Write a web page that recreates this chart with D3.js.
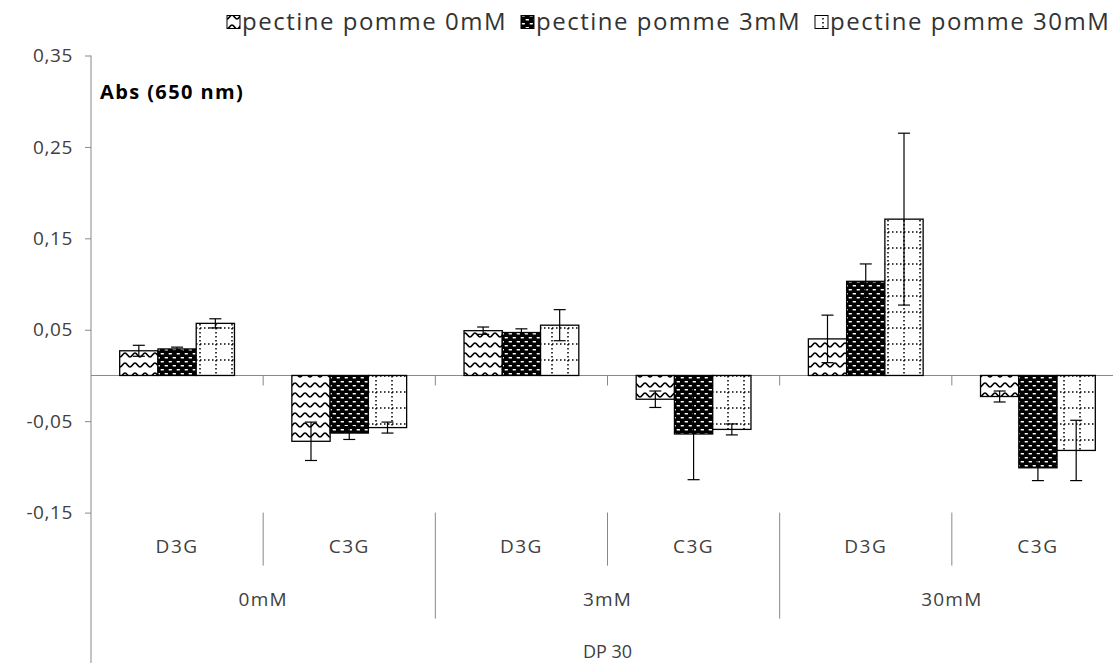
<!DOCTYPE html>
<html>
<head>
<meta charset="utf-8">
<script src="https://cdn.jsdelivr.net/npm/d3@7"></script>
<style>
body { margin: 0; background: #fff; }
text { font-family: "Open Sans", sans-serif; }
</style>
</head>
<body>
<div id="chart"></div>
<script>
var groups = ["0mM", "3mM", "30mM"];
var subcats = ["D3G", "C3G"];
var series = ["pectine pomme 0mM", "pectine pomme 3mM", "pectine pomme 30mM"];
var yTicks = [0.35, 0.25, 0.15, 0.05, -0.05, -0.15];
var axisTitle = "Abs (650 nm)";
var groupTitle = "DP 30";

// one value per category, in order 0mM D3G, 0mM C3G, 3mM D3G, 3mM C3G, 30mM D3G, 30mM C3G
var pomme0mM  = [0.027, -0.072, 0.049, -0.026, 0.040, -0.023];
var pomme3mM  = [0.029, -0.063, 0.047, -0.064, 0.103, -0.101];
var pomme30mM = [0.057, -0.057, 0.055, -0.059, 0.171, -0.082];
// error bars (+/-)
var err0mM  = [0.006, 0.021, 0.004, 0.009, 0.026, 0.006];
var err3mM  = [0.002, 0.007, 0.004, 0.050, 0.019, 0.014];
var err30mM = [0.005, 0.006, 0.017, 0.006, 0.094, 0.033];

(function(){
var values = [pomme0mM, pomme3mM, pomme30mM];
var errors = [err0mM, err3mM, err30mM];
var patterns = ["pWave", "pDash", "pGrid"];

var W = 1113, H = 663;
var margin = {left: 91, right: 1124, top: 55.5, bottom: 512.6};

var cats = [];
groups.forEach(function(g) {
  subcats.forEach(function(s) { cats.push(g + "|" + s); });
});

var data = [];
cats.forEach(function(c, i) {
  series.forEach(function(s, j) {
    data.push({cat: c, series: s, idx: j, value: values[j][i], err: errors[j][i]});
  });
});

var svg = d3.select("#chart").append("svg")
  .attr("width", W)
  .attr("height", H);

// fill patterns
var defs = svg.append("defs");
var p1 = defs.append("pattern").attr("id", "pWave")
  .attr("patternUnits", "userSpaceOnUse").attr("width", 10).attr("height", 10);
p1.append("rect").attr("width", 10).attr("height", 10).attr("fill", "#fff");
p1.append("path").attr("d", "M0,7 C2,7 3,3 5,3 C7,3 8,7 10,7")
  .attr("fill", "none").attr("stroke", "#000").attr("stroke-width", 1.6);

var p2 = defs.append("pattern").attr("id", "pDash")
  .attr("patternUnits", "userSpaceOnUse").attr("width", 8).attr("height", 8);
p2.append("rect").attr("width", 8).attr("height", 8).attr("fill", "#000");
p2.append("rect").attr("x", 0.5).attr("y", 1).attr("width", 3.6).attr("height", 1.6).attr("rx", 0.8).attr("fill", "#fff");
p2.append("rect").attr("x", 4.5).attr("y", 5).attr("width", 3.6).attr("height", 1.6).attr("rx", 0.8).attr("fill", "#fff");

var p3 = defs.append("pattern").attr("id", "pGrid")
  .attr("patternUnits", "userSpaceOnUse").attr("width", 16).attr("height", 16);
p3.append("rect").attr("width", 16).attr("height", 16).attr("fill", "#fff");
p3.append("line").attr("x1", 0).attr("x2", 16).attr("y1", 8).attr("y2", 8)
  .attr("stroke", "#000").attr("stroke-width", 1.5).attr("stroke-dasharray", "1.5 2.5");
p3.append("line").attr("x1", 8).attr("x2", 8).attr("y1", 0).attr("y2", 16)
  .attr("stroke", "#000").attr("stroke-width", 1.5).attr("stroke-dasharray", "1.5 2.5");

var x0 = d3.scaleBand().domain(cats).range([margin.left, margin.right]);
var x1 = d3.scaleBand().domain(series).range([0, x0.bandwidth()])
  .paddingInner(0).paddingOuter(0.75);
var y = d3.scaleLinear().domain([-0.15, 0.35]).range([margin.bottom, margin.top]);

var fr = d3.formatLocale({decimal: ",", thousands: " ", grouping: [3], currency: ["", ""], minus: "-"}).format(".2f");

// y axis
var yAxis = svg.append("g")
  .attr("transform", "translate(" + margin.left + ",0)")
  .call(d3.axisLeft(y).tickValues(yTicks).tickSize(6).tickPadding(12).tickFormat(fr));
yAxis.select(".domain").remove();
yAxis.selectAll(".tick line").attr("stroke", "#888");
yAxis.selectAll(".tick text")
  .attr("fill", "#404040")
  .style("font-size", "19px")
  .style("letter-spacing", "0.6px");

svg.append("line")
  .attr("x1", margin.left).attr("x2", margin.left)
  .attr("y1", margin.top).attr("y2", H)
  .attr("stroke", "#888");

// zero line
svg.append("line")
  .attr("x1", margin.left).attr("x2", W)
  .attr("y1", y(0)).attr("y2", y(0))
  .attr("stroke", "#888");

// category ticks along zero line and label separators
var bounds = cats.map(function(c) { return x0(c) + x0.bandwidth(); });
svg.selectAll(".ctick")
  .data(bounds)
  .enter()
  .append("line")
  .attr("x1", function(d) { return d; })
  .attr("x2", function(d) { return d; })
  .attr("y1", y(0))
  .attr("y2", y(0) + 10)
  .attr("stroke", "#888");

svg.selectAll(".sep")
  .data(bounds)
  .enter()
  .append("line")
  .attr("x1", function(d) { return d; })
  .attr("x2", function(d) { return d; })
  .attr("y1", margin.bottom)
  .attr("y2", function(d, i) { return i % 2 == 0 ? margin.bottom + 53 : margin.bottom + 106; })
  .attr("stroke", "#888");

// bars
svg.selectAll(".bar")
  .data(data)
  .enter()
  .append("rect")
  .attr("x", function(d) { return x0(d.cat) + x1(d.series); })
  .attr("y", function(d) { return y(Math.max(0, d.value)); })
  .attr("width", x1.bandwidth())
  .attr("height", function(d) { return Math.abs(y(d.value) - y(0)); })
  .attr("fill", function(d) { return "url(#" + patterns[d.idx] + ")"; })
  .attr("stroke", "#000")
  .attr("stroke-width", 1.3);

// error bars
var eb = svg.append("g").attr("stroke", "#000").attr("stroke-width", 1.2);
var cx = function(d) { return x0(d.cat) + x1(d.series) + x1.bandwidth() / 2; };
eb.selectAll(".ev")
  .data(data)
  .enter()
  .append("line")
  .attr("x1", cx).attr("x2", cx)
  .attr("y1", function(d) { return y(d.value + d.err); })
  .attr("y2", function(d) { return y(d.value - d.err); });
[1, -1].forEach(function(sgn) {
  eb.selectAll(".ec" + sgn)
    .data(data)
    .enter()
    .append("line")
    .attr("x1", function(d) { return cx(d) - 6; })
    .attr("x2", function(d) { return cx(d) + 6; })
    .attr("y1", function(d) { return y(d.value + sgn * d.err); })
    .attr("y2", function(d) { return y(d.value + sgn * d.err); });
});

// category labels
svg.selectAll(".clab")
  .data(cats)
  .enter()
  .append("text")
  .attr("x", function(d) { return x0(d) + x0.bandwidth() / 2; })
  .attr("y", 546)
  .attr("dy", "0.35em")
  .attr("text-anchor", "middle")
  .attr("fill", "#404040")
  .style("font-size", "19px")
  .style("letter-spacing", "1.5px")
  .text(function(d) { return d.split("|")[1]; });

svg.selectAll(".glab")
  .data(groups)
  .enter()
  .append("text")
  .attr("x", function(d) { return x0(d + "|" + subcats[0]) + x0.bandwidth(); })
  .attr("y", 599)
  .attr("dy", "0.35em")
  .attr("text-anchor", "middle")
  .attr("fill", "#404040")
  .style("font-size", "19px")
  .style("letter-spacing", "1.2px")
  .text(function(d) { return d; });

svg.append("text")
  .attr("x", (margin.left + margin.right) / 2)
  .attr("y", 652)
  .attr("dy", "0.35em")
  .attr("text-anchor", "middle")
  .attr("fill", "#404040")
  .style("font-size", "18px")
  .text(groupTitle);

svg.append("text")
  .attr("x", 100)
  .attr("y", 92)
  .attr("dy", "0.35em")
  .attr("fill", "#000")
  .style("font-size", "20px")
  .style("font-weight", "bold")
  .style("letter-spacing", "1.4px")
  .text(axisTitle);

// legend, laid out left to right
var lx = 227;
series.forEach(function(s, i) {
  var g = svg.append("g").attr("transform", "translate(" + lx + ",22)");
  g.append("rect")
    .attr("x", 0).attr("y", -6.5)
    .attr("width", 13).attr("height", 13)
    .attr("fill", "url(#" + patterns[i] + ")")
    .attr("stroke", "#000");
  var t = g.append("text")
    .attr("x", 15)
    .attr("dy", "0.35em")
    .attr("fill", "#333")
    .style("font-size", "24px")
    .style("letter-spacing", "1.5px")
    .text(s);
  lx += 15 + t.node().getComputedTextLength() + 14;
});
})();
</script>
</body>
</html>
